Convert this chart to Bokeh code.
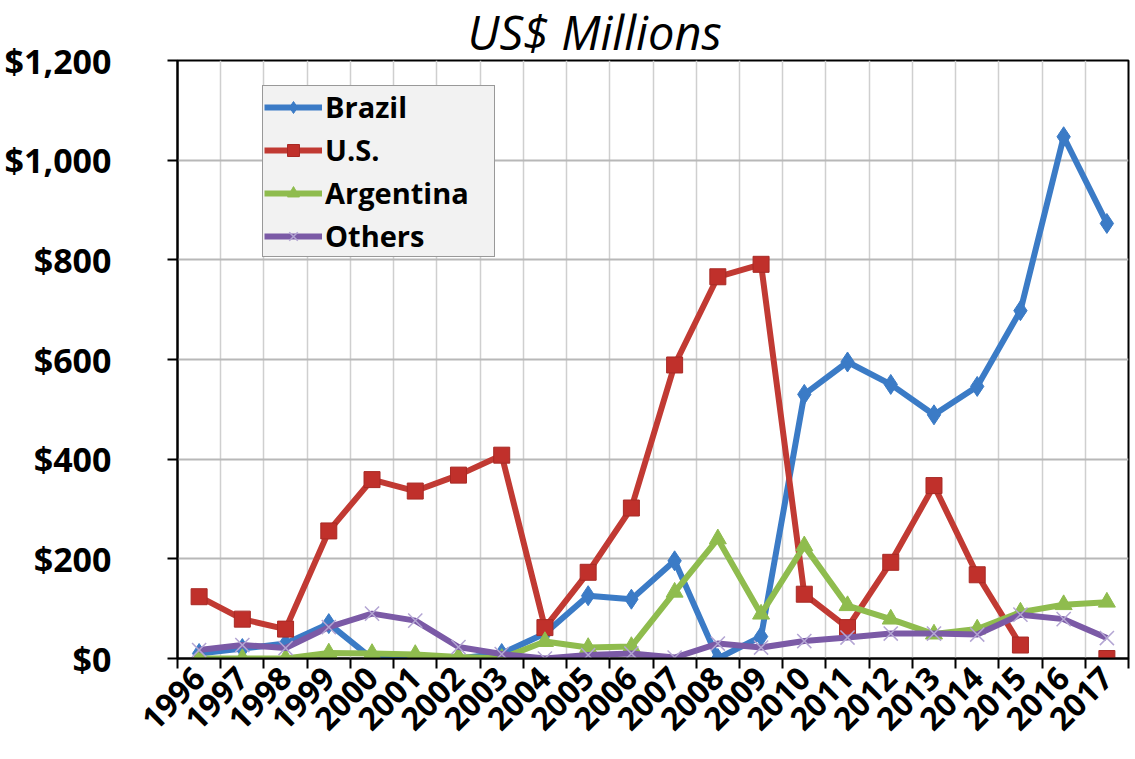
import math
from bokeh.plotting import figure
from bokeh.models import (FixedTicker, NumeralTickFormatter, Legend, LegendItem,
                          ColumnDataSource, Range1d)
from bokeh.embed import file_html
from bokeh.resources import INLINE

# Annual values, US$ millions
years = ["1996", "1997", "1998", "1999", "2000", "2001", "2002", "2003", "2004", "2005", "2006",
         "2007", "2008", "2009", "2010", "2011", "2012", "2013", "2014", "2015", "2016", "2017"]
brazil = [10, 20, 30, 70, 0, 0, 0, 10, 50, 126, 119, 196, 0, 44, 530, 595, 550, 489, 546, 698, 1047, 873]
us = [124, 79, 59, 256, 359, 336, 368, 408, 62, 173, 302, 589, 766, 791, 129, 62, 193, 347, 168, 27,
      float("nan"), 0]
argentina = [0, 0, 0, 11, 10, 8, 3, 0, 34, 22, 24, 133, 240, 89, 226, 106, 79, 49, 59, 93, 108, 113]
others = [17, 27, 21, 63, 90, 76, 23, 9, 0, 7, 10, 2, 30, 22, 35, 42, 50, 50, 48, 88, 79, 41]

series_names = ["Brazil", "U.S.", "Argentina", "Others"]
series_values = [brazil, us, argentina, others]
line_colors = ["#3b7bc6", "#c13a33", "#8fbc4e", "#7b5aa6"]
marker_types = ["diamond", "square", "triangle", "x"]

xs = list(range(len(years)))
boundaries = [i - 0.5 for i in range(len(years) + 1)]

p = figure(width=1135, height=759, output_backend="svg", toolbar_location=None,
           x_range=Range1d(-0.5, len(years) - 0.5), y_range=Range1d(0, 1200),
           min_border_left=177, min_border_right=7, min_border_top=60, min_border_bottom=101)

p.background_fill_color = "white"
p.border_fill_color = "white"
p.outline_line_color = "black"
p.outline_line_width = 2

# title
p.title.text = "US$ Millions"
p.title.text_font = "Open Sans"
p.title.text_font_style = "italic"
p.title.text_font_size = "47px"
p.title.text_color = "black"
p.title.align = "left"
p.title.offset = 290
p.title.standoff = -7

# x axis: labels at category centres, tick marks between categories
p.xaxis.ticker = FixedTicker(ticks=xs, minor_ticks=boundaries)
p.xaxis.major_label_overrides = {i: y for i, y in enumerate(years)}
p.xaxis.major_label_orientation = math.pi / 4
p.xaxis.major_label_text_font = "Open Sans"
p.xaxis.major_label_text_font_style = "bold"
p.xaxis.major_label_text_font_size = "32px"
p.xaxis.major_label_text_color = "black"
p.xaxis.major_label_standoff = 4
p.xaxis.major_tick_out = 0
p.xaxis.major_tick_in = 0
p.xaxis.minor_tick_out = 10
p.xaxis.minor_tick_in = 0
p.xaxis.minor_tick_line_color = "black"
p.xaxis.minor_tick_line_width = 2
p.xaxis.axis_line_color = "black"
p.xaxis.axis_line_width = 2

# y axis
p.yaxis.ticker = FixedTicker(ticks=[0, 200, 400, 600, 800, 1000, 1200])
p.yaxis.formatter = NumeralTickFormatter(format="$0,0")
p.yaxis.major_label_text_font = "Open Sans"
p.yaxis.major_label_text_font_style = "bold"
p.yaxis.major_label_text_font_size = "34px"
p.yaxis.major_label_text_color = "black"
p.yaxis.major_label_standoff = 56
p.yaxis.major_tick_out = 10
p.yaxis.major_tick_in = 0
p.yaxis.major_tick_line_width = 2
p.yaxis.major_tick_line_color = "black"
p.yaxis.minor_tick_out = 0
p.yaxis.minor_tick_in = 0
p.yaxis.axis_line_color = "black"
p.yaxis.axis_line_width = 2

# grid
p.xgrid.ticker = FixedTicker(ticks=boundaries)
p.xgrid.grid_line_color = "#cfcfcf"
p.xgrid.grid_line_width = 1.5
p.ygrid.grid_line_color = "#b8b8b8"
p.ygrid.grid_line_width = 2

items = []
for name, vals, color, marker in zip(series_names, series_values, line_colors, marker_types):
    src = ColumnDataSource(dict(x=xs, y=vals))
    ln = p.line("x", "y", source=src, line_color=color, line_width=6, line_join="round")
    if marker == "x":
        mk = p.scatter("x", "y", source=src, marker="x", size=20, line_color="#b3a5d3", line_width=1.5)
    elif marker == "diamond":
        mk = p.scatter("x", "y", source=src, marker="diamond", size=20, fill_color=color,
                       line_color=color, line_width=1)
    elif marker == "square":
        mk = p.scatter("x", "y", source=src, marker="square", size=16, fill_color="#c0302b",
                       line_color="#a82a25", line_width=1)
    else:
        mk = p.scatter("x", "y", source=src, marker="triangle", size=17, fill_color=color,
                       line_color=color, line_width=1)
    items.append(LegendItem(label=name, renderers=[ln, mk]))

legend = Legend(items=items, location=(85, 401),
                label_text_font="Open Sans", label_text_font_style="bold",
                label_text_font_size="29px", label_text_color="black",
                glyph_width=58, glyph_height=30, label_height=36, label_standoff=3,
                label_width=168, spacing=4, padding=1, margin=0,
                border_line_color="#404040", border_line_width=1,
                background_fill_color="#f2f2f2", background_fill_alpha=1)
p.add_layout(legend)

open("out.html", "w").write(file_html(p, INLINE))
